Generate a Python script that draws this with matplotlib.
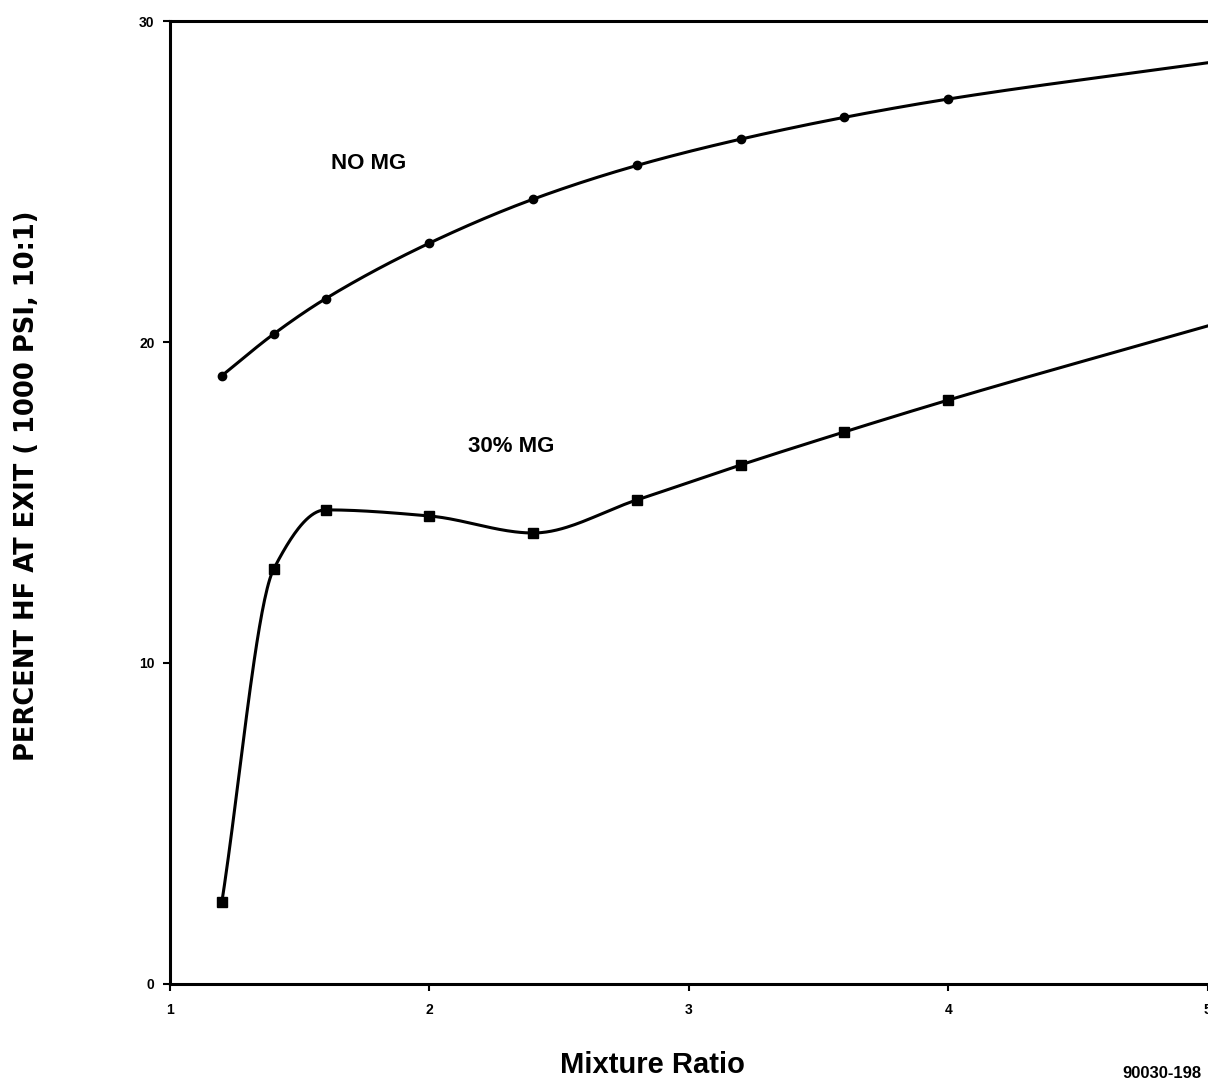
import numpy as np
import matplotlib
matplotlib.use("Agg")
import matplotlib.pyplot as plt

plt.rcParams['font.family'] = ['Liberation Sans', 'DejaVu Sans']

# Mixture ratio values (marked points)
mr = [1.2, 1.4, 1.6, 2.0, 2.4, 2.8, 3.2, 3.6, 4.0]
no_mg = [18.95, 20.25, 21.35, 23.08, 24.45, 25.5, 26.32, 27.0, 27.57]
mg30 = [2.55, 12.93, 14.77, 14.58, 14.05, 15.08, 16.17, 17.2, 18.19]
# curve end at the right edge (no marker)
mr_end = 5.0
no_mg_end = 28.7
mg30_end = 20.5

xticks = [1, 2, 3, 4, 5]
yticks = [0, 10, 20, 30]


def pchip(x, y, n=40):
    # monotone cubic through the points (Fritsch-Carlson), no overshoot
    x = np.asarray(x, float)
    y = np.asarray(y, float)
    h = np.diff(x)
    d = np.diff(y) / h
    m = np.zeros_like(y)
    for i in range(1, len(x) - 1):
        if d[i - 1] * d[i] > 0:
            w1 = 2 * h[i] + h[i - 1]
            w2 = h[i] + 2 * h[i - 1]
            m[i] = (w1 + w2) / (w1 / d[i - 1] + w2 / d[i])
    m[0] = d[0]
    m[-1] = d[-1]
    ox, oy = [], []
    for i in range(len(x) - 1):
        t = np.linspace(0, 1, n, endpoint=False)
        h00 = 2 * t**3 - 3 * t**2 + 1
        h10 = t**3 - 2 * t**2 + t
        h01 = -2 * t**3 + 3 * t**2
        h11 = t**3 - t**2
        ox.extend(x[i] + t * h[i])
        oy.extend(h00 * y[i] + h10 * h[i] * m[i] + h01 * y[i + 1] + h11 * h[i] * m[i + 1])
    ox.append(x[-1])
    oy.append(y[-1])
    return np.array(ox), np.array(oy)


fig = plt.figure(figsize=(12.08, 10.84), dpi=100)
ax = fig.add_axes([0.1407, 0.0923, 0.859, 0.8883])

for ys, yend, mk, ms in ((no_mg, no_mg_end, 'o', 6), (mg30, mg30_end, 's', 7)):
    sx, sy = pchip(mr + [mr_end], ys + [yend])
    ax.plot(sx, sy, color='black', lw=2.2)
    ax.plot(mr, ys, linestyle='none', marker=mk, ms=ms, color='black')

ax.set_xlim(1, 5)
ax.set_ylim(0, 30)
ax.set_xticks(xticks)
ax.set_yticks(yticks)
ax.tick_params(direction='out', length=5, width=1.5, labelsize=10)
ax.tick_params(axis='x', pad=9)
ax.tick_params(axis='y', pad=6)
for lbl in ax.get_xticklabels() + ax.get_yticklabels():
    lbl.set_fontweight('bold')
ax.spines['right'].set_visible(False)
for s in ('left', 'bottom', 'top'):
    ax.spines[s].set_linewidth(2.2)

ax.text(1.62, 25.55, 'NO MG', fontsize=16, fontweight='bold', va='center')
ax.text(2.15, 16.73, '30% MG', fontsize=16, fontweight='bold', va='center')

fig.text(0.022, 0.5517, 'PERCENT HF AT EXIT ( 1000 PSI, 10:1)', rotation=90,
         fontsize=18.5, fontweight='bold', ha='center', va='center',
         family=['DejaVu Sans'])
fig.text(0.54, 0.010, 'Mixture Ratio', fontsize=21, fontweight='bold',
         ha='center', va='baseline')
fig.text(0.962, 0.0055, '90030-198', fontsize=12, fontweight='bold',
         ha='center', va='baseline')

fig.savefig('out.png', dpi=100)
